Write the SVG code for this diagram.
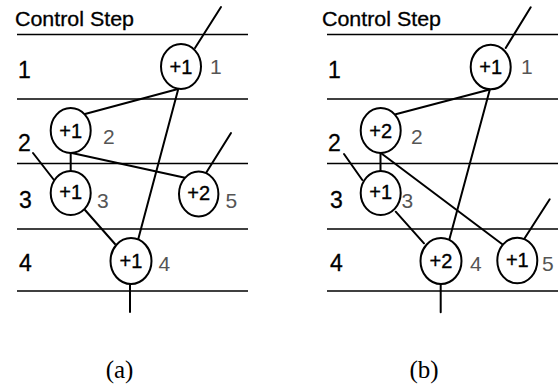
<svg xmlns="http://www.w3.org/2000/svg" width="558" height="387" viewBox="0 0 558 387">
  <style>
    .rule { stroke: #000; stroke-width: 1.4; }
    .edge { stroke: #000; stroke-width: 2; fill: none; stroke-linecap: round; }
    .op { fill: #fff; stroke: #000; stroke-width: 2; }
    .optext { font-family: "Liberation Sans", Arial, sans-serif; font-size: 20px; fill: #000; stroke: #000; stroke-width: 0.35; text-anchor: middle; }
    .idx { font-family: "Liberation Sans", Arial, sans-serif; font-size: 21px; fill: #555; }
    .step { font-family: "Liberation Sans", Arial, sans-serif; font-size: 23px; fill: #000; stroke: #000; stroke-width: 0.3; }
    .head { font-family: "Liberation Sans", Arial, sans-serif; font-size: 20px; fill: #000; stroke: #000; stroke-width: 0.3; }
    .cap { font-family: "Liberation Serif", "Times New Roman", serif; font-size: 25px; fill: #000; text-anchor: middle; }
  </style>
  <rect width="558" height="387" fill="#fff"/>

  <!-- Panel (a) -->
  <g id="panel-a">
    <g id="a-grid">
      <text class="head" x="15" y="26" textLength="119" lengthAdjust="spacingAndGlyphs">Control Step</text>
      <line class="rule" x1="17" y1="34.5" x2="248" y2="34.5"/>
      <line class="rule" x1="17" y1="99" x2="248" y2="99"/>
      <line class="rule" x1="17" y1="163.5" x2="248" y2="163.5"/>
      <line class="rule" x1="17" y1="229" x2="248" y2="229"/>
      <line class="rule" x1="17" y1="291" x2="248" y2="291"/>
      <text class="step" x="18" y="77.5">1</text>
      <text class="step" x="18" y="151">2</text>
      <text class="step" x="19" y="207.5">3</text>
      <text class="step" x="19" y="270.5">4</text>
    </g>
    <g id="a-edges">
      <line class="edge" x1="195" y1="48" x2="221" y2="7"/>
      <line class="edge" x1="178" y1="89" x2="85" y2="114"/>
      <line class="edge" x1="178" y1="90" x2="138" y2="240"/>
      <line class="edge" x1="70.7" y1="153" x2="70.7" y2="171"/>
      <line class="edge" x1="70.7" y1="152.7" x2="185" y2="177.7"/>
      <line class="edge" x1="33" y1="153" x2="54" y2="180"/>
      <line class="edge" x1="231" y1="133" x2="206" y2="173"/>
      <line class="edge" x1="85" y1="210" x2="115" y2="244"/>
      <line class="edge" x1="130" y1="284" x2="130" y2="312"/>
    </g>
    <g id="a-n1">
      <ellipse class="op" cx="181" cy="66.5" rx="20" ry="22.5"/>
      <text class="optext" x="181" y="73.5">+1</text>
      <text class="idx" x="210" y="73.5">1</text>
    </g>
    <g id="a-n2">
      <ellipse class="op" cx="70.7" cy="130.5" rx="20" ry="22.5"/>
      <text class="optext" x="70.7" y="137.5">+1</text>
      <text class="idx" x="103" y="143.5">2</text>
    </g>
    <g id="a-n3">
      <ellipse class="op" cx="70.7" cy="193" rx="20" ry="22"/>
      <text class="optext" x="70.7" y="198.5">+1</text>
      <text class="idx" x="97" y="207.5">3</text>
    </g>
    <g id="a-n5">
      <ellipse class="op" cx="198.7" cy="194" rx="19.7" ry="22.5"/>
      <text class="optext" x="198.7" y="199.5">+2</text>
      <text class="idx" x="225.5" y="207.5">5</text>
    </g>
    <g id="a-n4">
      <ellipse class="op" cx="131" cy="261" rx="20.5" ry="23"/>
      <text class="optext" x="131" y="267.5">+1</text>
      <text class="idx" x="158.5" y="270.5">4</text>
    </g>
    <text class="cap" x="119.5" y="378">(a)</text>
  </g>

  <!-- Panel (b) -->
  <g id="panel-b">
    <g id="b-grid">
      <text class="head" x="322" y="26" textLength="119" lengthAdjust="spacingAndGlyphs">Control Step</text>
      <line class="rule" x1="327" y1="34.5" x2="558" y2="34.5"/>
      <line class="rule" x1="327" y1="99" x2="558" y2="99"/>
      <line class="rule" x1="327" y1="163.5" x2="558" y2="163.5"/>
      <line class="rule" x1="327" y1="229" x2="558" y2="229"/>
      <line class="rule" x1="327" y1="291" x2="558" y2="291"/>
      <text class="step" x="328" y="77.5">1</text>
      <text class="step" x="328" y="151">2</text>
      <text class="step" x="330" y="207.5">3</text>
      <text class="step" x="330" y="270.5">4</text>
    </g>
    <g id="b-edges">
      <line class="edge" x1="505.7" y1="48" x2="530.7" y2="7.3"/>
      <line class="edge" x1="489.7" y1="89.5" x2="395.7" y2="114.3"/>
      <line class="edge" x1="489.7" y1="90" x2="449" y2="240.7"/>
      <line class="edge" x1="380.5" y1="153" x2="380.5" y2="171"/>
      <line class="edge" x1="380.5" y1="152.7" x2="502.3" y2="244.3"/>
      <line class="edge" x1="344" y1="154" x2="362.3" y2="180"/>
      <line class="edge" x1="395.7" y1="211.7" x2="424" y2="243.3"/>
      <line class="edge" x1="549.7" y1="199.3" x2="524" y2="239.3"/>
      <line class="edge" x1="440.7" y1="284.3" x2="440.7" y2="312.3"/>
    </g>
    <g id="b-n1">
      <ellipse class="op" cx="490.7" cy="67" rx="20" ry="22.3"/>
      <text class="optext" x="490.7" y="73.5">+1</text>
      <text class="idx" x="521" y="73.5">1</text>
    </g>
    <g id="b-n2">
      <ellipse class="op" cx="380.7" cy="130.5" rx="20" ry="22.5"/>
      <text class="optext" x="380.7" y="137.5">+2</text>
      <text class="idx" x="411" y="143.5">2</text>
    </g>
    <g id="b-n3">
      <ellipse class="op" cx="380.7" cy="193" rx="20" ry="22"/>
      <text class="optext" x="380.7" y="198.5">+1</text>
      <text class="idx" x="401.5" y="207.5">3</text>
    </g>
    <g id="b-n4">
      <ellipse class="op" cx="441" cy="261" rx="20.5" ry="23"/>
      <text class="optext" x="441" y="267.5">+2</text>
      <text class="idx" x="470" y="270.5">4</text>
    </g>
    <g id="b-n5">
      <ellipse class="op" cx="517.3" cy="260.5" rx="20" ry="22.8"/>
      <text class="optext" x="517.3" y="266.5">+1</text>
      <text class="idx" x="542" y="270.5">5</text>
    </g>
    <text class="cap" x="424" y="378">(b)</text>
  </g>
</svg>
